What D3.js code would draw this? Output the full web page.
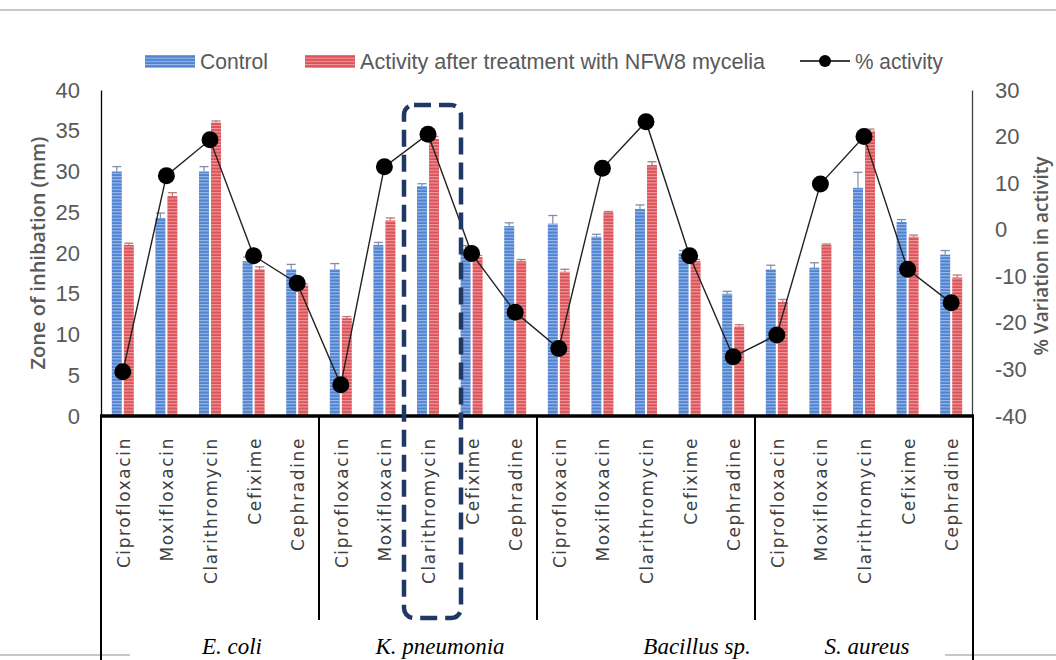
<!DOCTYPE html>
<html><head><meta charset="utf-8">
<script src="https://cdn.jsdelivr.net/npm/d3@7"></script>
<style>body{margin:0;background:#fff}svg{display:block}</style>
</head><body>
<svg id="c" width="1056" height="660"></svg>
<script>
const antibiotics = ["Ciprofloxacin","Moxifloxacin","Clarithromycin","Cefixime","Cephradine"];
const groups = ["E. coli","K. pneumonia","Bacillus sp.","S. aureus"];
const control    = [30,24.3,30,19,18, 18,21,28.2,20.5,23.3, 23.6,22,25.4,20,15, 18,18.2,28,23.8,19.8];
const controlErr = [0.6,0.6,0.6,0.5,0.6, 0.7,0.3,0.3,0.4,0.4, 1,0.3,0.5,0.3,0.3, 0.5,0.6,1.9,0.3,0.5];
const treated    = [21,27,36,18,16, 12,24,34,19.5,19, 17.7,25,30.8,19,11, 14,21,35,22,17];
const treatedErr = [0.2,0.4,0.2,0.3,0.2, 0.2,0.3,0.3,0.2,0.2, 0.3,0.1,0.4,0.2,0.2, 0.3,0.1,0.2,0.2,0.3];
const activity   = [-30.5,11.6,19.3,-5.6,-11.5, -33.3,13.5,20.5,-5.1,-17.7, -25.5,13.2,23.2,-5.6,-27.3, -22.6,9.8,20,-8.5,-15.7];
const leftTicks = [0,5,10,15,20,25,30,35,40];
const rightTicks = [-40,-30,-20,-10,0,10,20,30];
const legendLabels = ["Control","Activity after treatment with NFW8 mycelia","% activity"];

const svg = d3.select("#c");
const X0 = 101, X1 = 973, YT = 90, YB = 416;
const cats = d3.range(groups.length * antibiotics.length);
const x = d3.scaleBand().domain(cats).range([X0, X1]);
const xi = d3.scaleBand().domain(["c","t"]).range([0,22]).paddingInner(0.17);
const yL = d3.scaleLinear().domain([0,40]).range([YB, YT]);
const yR = d3.scaleLinear().domain([-40,30]).range([YB, YT]);
const cx = i => x(i) + x.bandwidth()/2;

// patterns
const defs = svg.append("defs");
function stripe(id, base, light){
  const p = defs.append("pattern").attr("id", id).attr("patternUnits","userSpaceOnUse")
    .attr("width", 10).attr("height", 3.2);
  p.append("rect").attr("width",10).attr("height",3.2).attr("fill", base);
  p.append("rect").attr("y",0).attr("width",10).attr("height",1.1).attr("fill", light);
}
stripe("pb", "#4f82cf", "#9dbbe9");
stripe("pr", "#d9545a", "#f19a9c");

// page lines
svg.append("line").attr("x1",0).attr("x2",1056).attr("y1",10).attr("y2",10).attr("stroke","#c8c8c8").attr("stroke-width",2);
svg.append("line").attr("x1",0).attr("x2",130).attr("y1",655).attr("y2",655).attr("stroke","#c8c8c8").attr("stroke-width",2);
svg.append("line").attr("x1",945).attr("x2",1056).attr("y1",655).attr("y2",655).attr("stroke","#c8c8c8").attr("stroke-width",2);

// bars
const bw = xi.bandwidth();
const g = svg.append("g");
cats.forEach(i => {
  const bx = cx(i) - 11;
  g.append("rect").attr("x", bx + xi("c")).attr("y", yL(control[i])).attr("width", bw)
    .attr("height", yL(0) - yL(control[i])).attr("fill","url(#pb)");
  g.append("rect").attr("x", bx + xi("t")).attr("y", yL(treated[i])).attr("width", bw)
    .attr("height", yL(0) - yL(treated[i])).attr("fill","url(#pr)");
  [["c", control[i], controlErr[i], "#7f8ea8"], ["t", treated[i], treatedErr[i], "#b47a7a"]].forEach(([k,v,e,col]) => {
    const ex = bx + xi(k) + bw/2;
    g.append("line").attr("x1",ex).attr("x2",ex).attr("y1",yL(v)).attr("y2",yL(v+e)).attr("stroke",col).attr("stroke-width",1.2);
    g.append("line").attr("x1",ex-4.5).attr("x2",ex+4.5).attr("y1",yL(v+e)).attr("y2",yL(v+e)).attr("stroke",col).attr("stroke-width",1.3);
  });
});

// axes
const tf = "'Liberation Sans Narrow','Arial Narrow',sans-serif";
const axL = svg.append("g").attr("transform",`translate(${X0},0)`)
  .call(d3.axisLeft(yL).tickValues(leftTicks).tickFormat(d => String(d)).tickSize(0).tickPadding(21));
axL.select(".domain").attr("stroke","#000").attr("stroke-width",1.3);
axL.selectAll("text").attr("font-family",tf).attr("font-size",22).attr("fill","#595959");
const axR = svg.append("g").attr("transform",`translate(972,0)`)
  .call(d3.axisRight(yR).tickValues(rightTicks).tickFormat(d => String(d)).tickSize(0).tickPadding(23));
axR.select(".domain").attr("stroke","#404040").attr("stroke-width",1.3);
axR.selectAll("text").attr("font-family",tf).attr("font-size",22).attr("fill","#595959");

// axis titles
svg.append("text").attr("transform","translate(45,253) rotate(-90)").attr("text-anchor","middle")
  .attr("font-family","'Open Sans',sans-serif").attr("font-weight",600).attr("font-size",20).attr("fill","#595959")
  .text("Zone of inhibation (mm)");
svg.append("text").attr("transform","translate(1048,256) rotate(-90)").attr("text-anchor","middle")
  .attr("font-family","'Open Sans',sans-serif").attr("font-weight",600).attr("font-size",19).attr("fill","#595959")
  .text("% Variation in activity");

// line + points
const line = d3.line().x((d,i)=>cx(i)).y(d=>yR(d));
svg.append("path").attr("d", line(activity)).attr("fill","none").attr("stroke","#222").attr("stroke-width",1.4);
svg.selectAll("circle.pt").data(activity).join("circle").attr("class","pt")
  .attr("cx",(d,i)=>cx(i)).attr("cy",d=>yR(d)).attr("r",8.5).attr("fill","#000");

// bottom category area
svg.append("line").attr("x1",X0-1).attr("x2",X1+1).attr("y1",YB).attr("y2",YB).attr("stroke","#000").attr("stroke-width",3.5);
const gw = antibiotics.length;
const bounds = d3.range(groups.length+1).map(k => k < groups.length ? x(k*gw) : X1);
bounds.forEach((bx,k) => {
  const outer = (k===0 || k===groups.length);
  svg.append("line").attr("x1",bx).attr("x2",bx).attr("y1",YB).attr("y2", outer ? 660 : 620)
    .attr("stroke","#000").attr("stroke-width",2);
});
cats.forEach(i => {
  svg.append("text").attr("transform",`translate(${cx(i)+7},437) rotate(-90)`).attr("text-anchor","end")
    .attr("font-family","'DejaVu Sans',Verdana,sans-serif").attr("font-size",17).attr("fill","#404040")
    .attr("letter-spacing",1.6)
    .text(antibiotics[i % gw]);
});
const groupX = [232, 440, 697, 867];
groups.forEach((gname,k) => {
  svg.append("text").attr("x", groupX[k]).attr("y", 654).attr("text-anchor","middle")
    .attr("font-family","'Liberation Serif','Times New Roman',serif").attr("font-style","italic")
    .attr("font-size",23).attr("fill","#000").text(gname);
});

// dashed highlight
svg.append("rect").attr("x",404).attr("y",105).attr("width",57).attr("height",513).attr("rx",10)
  .attr("fill","none").attr("stroke","#1f3864").attr("stroke-width",4.5).attr("stroke-dasharray","17,8");

// legend
const lg = svg.append("g");
lg.append("rect").attr("x",145).attr("y",55).attr("width",50).attr("height",13).attr("fill","url(#pb)");
lg.append("text").attr("x",200).attr("y",69).attr("font-family",tf).attr("font-size",22).attr("fill","#595959")
  .attr("textLength",68).attr("lengthAdjust","spacingAndGlyphs").text(legendLabels[0]);
lg.append("rect").attr("x",305).attr("y",55).attr("width",50).attr("height",13).attr("fill","url(#pr)");
lg.append("text").attr("x",360).attr("y",69).attr("font-family",tf).attr("font-size",22).attr("fill","#595959")
  .attr("textLength",405).attr("lengthAdjust","spacingAndGlyphs").text(legendLabels[1]);
lg.append("line").attr("x1",800).attr("x2",850).attr("y1",61).attr("y2",61).attr("stroke","#000").attr("stroke-width",1.6);
lg.append("circle").attr("cx",825).attr("cy",61).attr("r",6).attr("fill","#000");
lg.append("text").attr("x",855).attr("y",69).attr("font-family",tf).attr("font-size",22).attr("fill","#595959")
  .attr("textLength",88).attr("lengthAdjust","spacingAndGlyphs").text(legendLabels[2]);
</script>
</body></html>
